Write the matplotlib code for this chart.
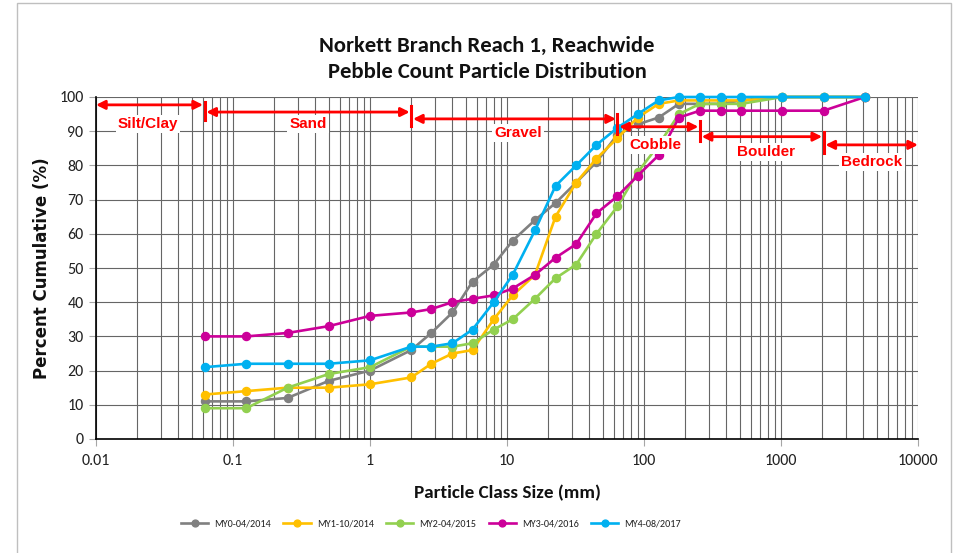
import matplotlib
matplotlib.use("Agg")
import matplotlib.pyplot as plt
from matplotlib.patches import Rectangle
from matplotlib.ticker import LogLocator, FixedLocator, NullFormatter, FuncFormatter

# Particle class sizes (mm)
sizes = [0.062, 0.125, 0.25, 0.5, 1, 2, 2.8, 4, 5.6, 8, 11, 16, 22.6, 32, 45,
         64, 90, 128, 180, 256, 362, 512, 1024, 2048, 4096]

# Percent cumulative for each monitoring year
my0 = [11, 11, 12, 17, 20, 26, 31, 37, 46, 51, 58, 64, 69, 75, 81,
       89, 92, 94, 98, 98, 98, 99, 100, 100, 100]
my1 = [13, 14, 15, 15, 16, 18, 22, 25, 26, 35, 42, 48, 65, 75, 82,
       88, 94, 98, 99, 99, 99, 99, 100, 100, 100]
my2 = [9, 9, 15, 19, 21, 27, 27, 27, 28, 32, 35, 41, 47, 51, 60,
       68, 78, 86, 95, 98, 98, 98, 100, 100, 100]
my3 = [30, 30, 31, 33, 36, 37, 38, 40, 41, 42, 44, 48, 53, 57, 66,
       71, 77, 83, 94, 96, 96, 96, 96, 96, 100]
my4 = [21, 22, 22, 22, 23, 27, 27, 28, 32, 40, 48, 61, 74, 80, 86,
       91, 95, 99, 100, 100, 100, 100, 100, 100, 100]

series_labels = ["MY0-04/2014", "MY1-10/2014", "MY2-04/2015", "MY3-04/2016", "MY4-08/2017"]
series_colors = ["#808080", "#FFC000", "#92D050", "#CC0099", "#00B0F0"]

# x-axis decade ticks
decades = [0.01, 0.1, 1, 10, 100, 1000, 10000]

# Size-class ranges: names and bounds (mm)
class_names = ["Silt/Clay", "Sand", "Gravel", "Cobble", "Boulder", "Bedrock"]
class_bounds = [0.01, 0.062, 2, 64, 256, 2048, 10000]

body_font = ["Carlito", "Lato", "DejaVu Sans"]
plt.rcParams["font.family"] = body_font

fig = plt.figure(figsize=(9.59, 5.53), dpi=100)
W, H = 959, 553

# chart-area border
fig.patches.append(Rectangle((17 / W, -0.05), (951 - 17) / W, (553 - 3) / H + 0.05,
                             transform=fig.transFigure, fill=False,
                             edgecolor="#bfbfbf", linewidth=1.0))

ax = fig.add_axes([96 / W, (553 - 439) / H, (918 - 96) / W, (439 - 97) / H])
ax.set_xscale("log")
ax.set_xlim(decades[0], decades[-1])
ax.set_ylim(0, 100)

grid_color = "#666666"
ax.xaxis.set_major_locator(FixedLocator(decades))
ax.xaxis.set_minor_locator(LogLocator(base=10, subs=range(2, 10), numticks=100))
ax.xaxis.set_minor_formatter(NullFormatter())
ax.xaxis.set_major_formatter(FuncFormatter(lambda v, p: f"{v:g}"))
ax.yaxis.set_major_locator(FixedLocator(range(0, 101, 10)))
ax.grid(True, which="major", color=grid_color, linewidth=0.8)
ax.grid(True, which="minor", axis="x", color=grid_color, linewidth=0.8)
ax.set_axisbelow(True)

for s in ["top", "right"]:
    ax.spines[s].set_visible(False)
for s in ["left", "bottom"]:
    ax.spines[s].set_color("black")
    ax.spines[s].set_linewidth(1.2)

ax.tick_params(axis="both", which="major", length=5, color="#a6a6a6",
               labelsize=11.5, labelcolor="#222222")
ax.tick_params(axis="x", which="minor", length=0)
ax.tick_params(axis="y", pad=4)
ax.tick_params(axis="x", pad=6)

for vals, lab, col in zip([my0, my1, my2, my3, my4], series_labels, series_colors):
    ax.plot(sizes, vals, color=col, linewidth=1.9, marker="o", markersize=5.8,
            label=lab, zorder=3, clip_on=False)

# size-class arrows, separators and labels
arrow_y = [97.7, 95.6, 93.6, 91.3, 88.4, 86.0]
label_x = [0.024, 0.352, 12.0, 122, 778, 4617]
label_y = [92.1, 92.1, 89.5, 86.0, 83.9, 81.0]
sep_spans = {0.062: (93.3, 98.6), 2: (91.5, 97.4), 64: (89.1, 95.0),
             256: (87.1, 93.0), 2048: (83.5, 89.9)}
red = "#FF0000"
for i, name in enumerate(class_names):
    x0, x1 = class_bounds[i], class_bounds[i + 1]
    gap0 = 1.0 if i == 0 else 1.03
    gap1 = 1.0 if i == len(class_names) - 1 else 0.975
    ax.annotate("", xy=(x1 * gap1, arrow_y[i]), xytext=(x0 * gap0, arrow_y[i]),
                arrowprops=dict(arrowstyle="<|-|>", color=red, lw=2.0,
                                mutation_scale=13, shrinkA=0, shrinkB=0),
                zorder=5, annotation_clip=False)
    ax.text(label_x[i], label_y[i], name, color=red, fontsize=11, fontweight="bold",
            family=["Liberation Sans", "DejaVu Sans"], ha="center", va="center",
            zorder=4, bbox=dict(facecolor="white", edgecolor="none", pad=1.5))
for xb, (ya, yb) in sep_spans.items():
    ax.plot([xb, xb], [ya, yb], color=red, linewidth=2.2, zorder=5)

fig.text(487 / W, 1 - 59 / H, "Norkett Branch Reach 1, Reachwide\nPebble Count Particle Distribution",
         ha="center", va="center", fontsize=16.3, fontweight="bold",
         linespacing=1.38, color="#111111")
fig.text(507 / W, 1 - 493 / H, "Particle Class Size (mm)", ha="center", va="center",
         fontsize=13.8, fontweight="bold", color="#111111")
fig.text(42 / W, 1 - 268 / H, "Percent Cumulative (%)", ha="center", va="center",
         rotation=90, fontsize=12, fontweight="bold", family=["DejaVu Sans"],
         color="#111111")

leg = fig.legend(loc="center", bbox_to_anchor=(431 / W, 1 - 524 / H), ncol=5,
                 frameon=False, fontsize=7.3, handlelength=2.7, handletextpad=0.6,
                 columnspacing=1.2, markerscale=0.85)
for t in leg.get_texts():
    t.set_color("#222222")

fig.savefig("out.png", dpi=100)
